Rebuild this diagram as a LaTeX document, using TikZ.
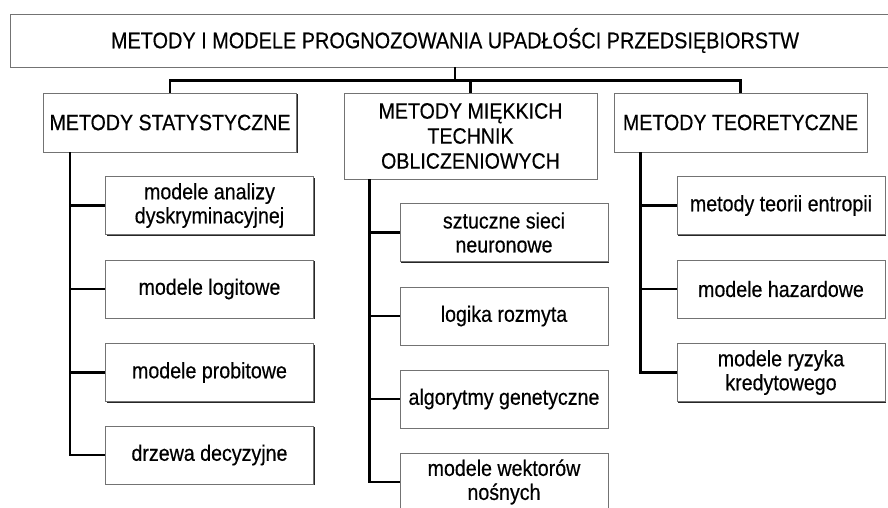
\documentclass[tikz,border=0pt]{standalone}
\usepackage{fontspec}
\setmainfont{Liberation Sans}[FakeStretch=0.88, FakeBold=0.4]
\usetikzlibrary{shadows}

\tikzset{
  ramka/.style={draw=black!55, line width=0.7pt, fill=white, inner sep=0pt, align=center,
    drop shadow={shadow xshift=1.1pt, shadow yshift=-1.1pt, opacity=1, fill=black!85}},
  grupa/.style={ramka, minimum width=253pt, font=\fontsize{22.3}{25}\selectfont},
  metoda/.style={ramka, minimum width=208pt, minimum height=58pt, font=\fontsize{22.3}{24}\selectfont},
  linia/.style={line width=2.6pt}
}

\begin{document}
\begin{tikzpicture}[x=1pt, y=-1pt]
  \useasboundingbox (0,0) rectangle (888,508);

  \node[ramka, minimum width=890pt, minimum height=53pt, font=\fontsize{22.6}{25}\selectfont]
    (tytul) at (455,40.5) {METODY I MODELE PROGNOZOWANIA UPADŁOŚCI PRZEDSIĘBIORSTW};

  \node[grupa, minimum height=59pt] (stat) at (170,122.5) {METODY STATYSTYCZNE};
  \node[grupa, minimum height=86pt] (mek) at (470.5,136) {METODY MIĘKKICH\\TECHNIK\\OBLICZENIOWYCH};
  \node[grupa, minimum height=59pt] (teo) at (740.5,122.5) {METODY TEORETYCZNE};

  % metody statystyczne
  \node[metoda] (s1) at (209.5,205.5) {modele analizy\\dyskryminacyjnej};
  \node[metoda] (s2) at (209.5,289) {modele logitowe};
  \node[metoda] (s3) at (209.5,372.5) {modele probitowe};
  \node[metoda] (s4) at (209.5,455) {drzewa decyzyjne};

  % metody miękkich technik
  \node[metoda] (m1) at (504,232.5) {sztuczne sieci\\neuronowe};
  \node[metoda] (m2) at (504,316) {logika rozmyta};
  \node[metoda] (m3) at (504,399) {algorytmy genetyczne};
  \node[metoda] (m4) at (504,482) {modele wektorów\\nośnych};

  % metody teoretyczne
  \node[metoda] (t1) at (781,205.5) {metody teorii entropii};
  \node[metoda] (t2) at (781,289) {modele hazardowe};
  \node[metoda] (t3) at (781,372.5) {modele ryzyka\\kredytowego};

  % połączenia
  \draw[linia] (tytul.south) -- ++(0,13) coordinate (szyna);
  \draw[linia] (stat.north) |- (szyna) -| (teo.north);
  \draw[linia] (mek.north) |- (szyna);

  \coordinate (pS) at ([xshift=27pt]stat.south west);
  \coordinate (pM) at ([xshift=26pt]mek.south west);
  \coordinate (pT) at ([xshift=27pt]teo.south west);
  \draw[linia] (pS) |- (s4.west);
  \draw[linia] (pM) |- (m4.west);
  \draw[linia] (pT) |- (t3.west);
  \foreach \n in {s1,s2,s3} \draw[linia] (pS |- \n.west) -- (\n.west);
  \foreach \n in {m1,m2,m3} \draw[linia] (pM |- \n.west) -- (\n.west);
  \foreach \n in {t1,t2} \draw[linia] (pT |- \n.west) -- (\n.west);
\end{tikzpicture}
\end{document}
